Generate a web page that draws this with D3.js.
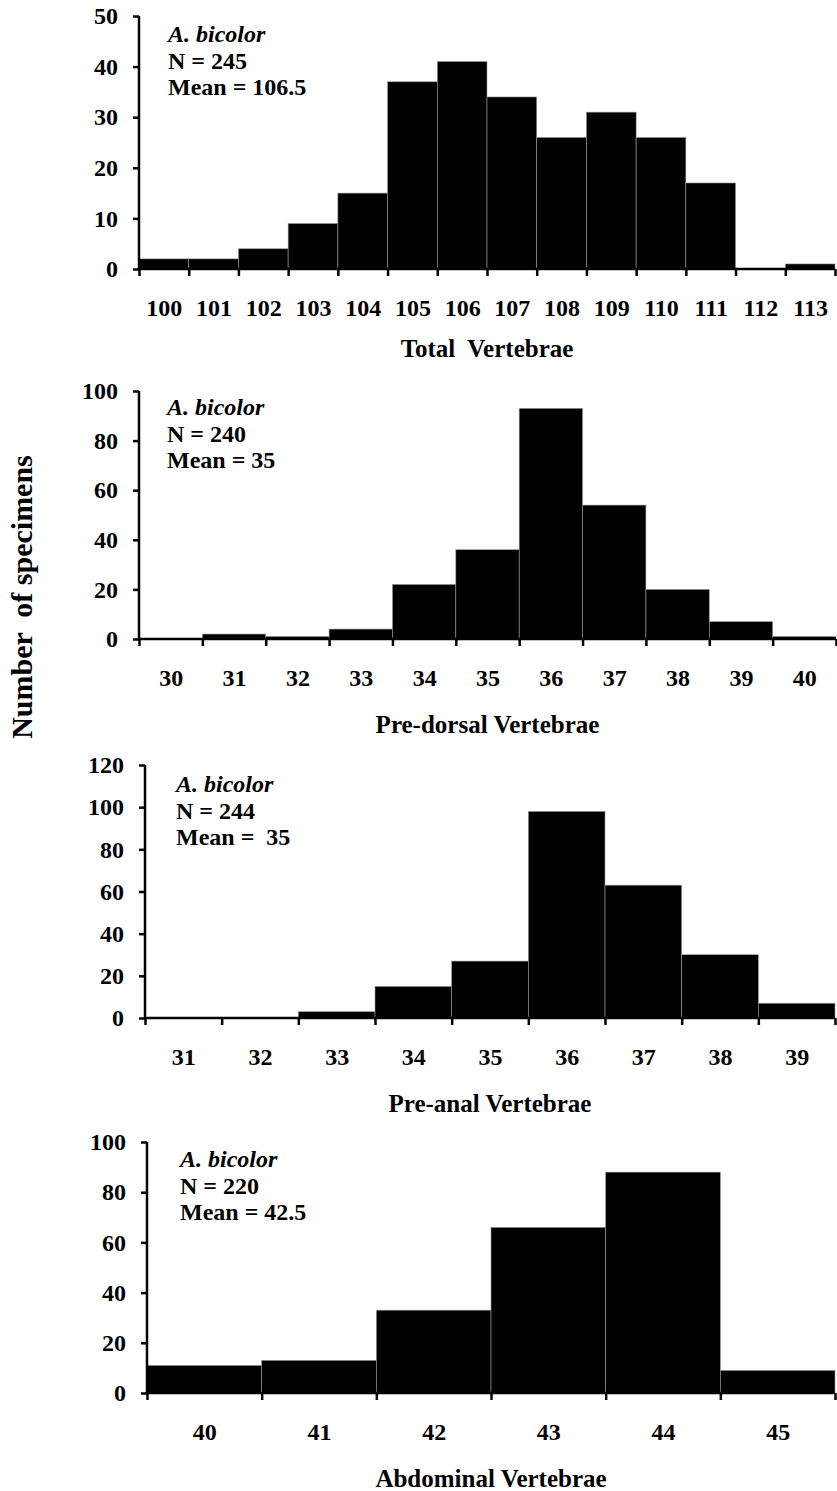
<!DOCTYPE html>
<html>
<head>
<meta charset="utf-8">
<script src="https://d3js.org/d3.v7.min.js"></script>
<style>
  body { margin: 0; background: #fff; }
  svg text { font-family: "Liberation Serif", "Times New Roman", serif; font-weight: bold; fill: #000; white-space: pre; }
  .axis path, .axis line { stroke: #000; stroke-width: 2.5px; }
  .axis text { font-size: 24px; }
</style>
</head>
<body>
<script>
// vertebrae counts (categories) and number of specimens per count
var totalCounts = [100, 101, 102, 103, 104, 105, 106, 107, 108, 109, 110, 111, 112, 113];
var totalValues = [2, 2, 4, 9, 15, 37, 41, 34, 26, 31, 26, 17, 0, 1];

var dorsalCounts = [30, 31, 32, 33, 34, 35, 36, 37, 38, 39, 40];
var dorsalValues = [0, 2, 1, 4, 22, 36, 93, 54, 20, 7, 1];

var analCounts = [31, 32, 33, 34, 35, 36, 37, 38, 39];
var analValues = [0, 0, 3, 15, 27, 98, 63, 30, 7];

var abdCounts = [40, 41, 42, 43, 44, 45];
var abdValues = [11, 13, 33, 66, 88, 9];

var titles = ["Total  Vertebrae", "Pre-dorsal Vertebrae", "Pre-anal Vertebrae", "Abdominal Vertebrae"];
var species = "A. bicolor";
var nLabels = ["N = 245", "N = 240", "N = 244", "N = 220"];
var meanLabels = ["Mean = 106.5", "Mean = 35", "Mean =  35", "Mean = 42.5"];
var yMax = [50, 100, 120, 100];
var yStep = [10, 20, 20, 20];

var panels = [
  { counts: totalCounts, values: totalValues, left: 139, right: 835, top: 16, bottom: 269, titleGap: 88, noteX: 29, noteY: 26 },
  { counts: dorsalCounts, values: dorsalValues, left: 139, right: 836, top: 391, bottom: 639, titleGap: 94, noteX: 28, noteY: 24 },
  { counts: analCounts, values: analValues, left: 145, right: 835, top: 765, bottom: 1018, titleGap: 94, noteX: 31, noteY: 27 },
  { counts: abdCounts, values: abdValues, left: 147, right: 835, top: 1142, bottom: 1393, titleGap: 94, noteX: 33, noteY: 25 }
];

var svg = d3.select("body").append("svg")
  .attr("width", 837)
  .attr("height", 1491);

panels.forEach(function(p, k) {
  var c = p.counts;
  var x = d3.scaleLinear()
    .domain([c[0] - 0.5, c[c.length - 1] + 0.5])
    .range([p.left, p.right]);
  var y = d3.scaleLinear()
    .domain([0, yMax[k]])
    .range([p.bottom, p.top]);

  var data = c.map(function(v, i) { return { count: v, n: p.values[i] }; });

  var g = svg.append("g");

  // histogram bars
  g.selectAll(".bar")
    .data(data)
    .enter().append("rect")
    .attr("class", "bar")
    .attr("x", d => x(d.count - 0.5))
    .attr("width", d => x(d.count + 0.5) - x(d.count - 0.5))
    .attr("y", d => y(d.n))
    .attr("height", d => y(0) - y(d.n))
    .attr("fill", "#000")
    .attr("stroke", "#999")
    .attr("stroke-width", 0.6);

  // y axis
  g.append("g")
    .attr("class", "axis")
    .attr("transform", "translate(" + p.left + ",0)")
    .call(d3.axisLeft(y).tickValues(d3.range(0, yMax[k] + 1, yStep[k])).tickSize(6).tickPadding(15))
    .call(s => s.select(".domain").attr("d", "M0," + p.bottom + "V" + p.top));

  // x axis: tick marks at bin edges
  var edges = c.map(v => v - 0.5).concat([c[c.length - 1] + 0.5]);
  g.append("g")
    .attr("class", "axis")
    .attr("transform", "translate(0," + p.bottom + ")")
    .call(d3.axisBottom(x).tickValues(edges).tickSize(7).tickFormat(""))
    .call(s => s.select(".domain").attr("d", "M" + p.left + ",0H" + p.right));

  // x labels at bin centres
  g.append("g")
    .attr("class", "axis")
    .attr("transform", "translate(0," + p.bottom + ")")
    .call(d3.axisBottom(x).tickValues(c).tickSize(0).tickPadding(30).tickFormat(d3.format("d")))
    .call(s => s.select(".domain").remove());

  // axis title
  g.append("text")
    .attr("x", (p.left + p.right) / 2)
    .attr("y", p.bottom + p.titleGap)
    .attr("text-anchor", "middle")
    .style("font-size", "25px")
    .text(titles[k]);

  // annotation
  var note = g.append("text")
    .attr("x", p.left + p.noteX)
    .attr("y", p.top + p.noteY)
    .style("font-size", "24px");
  note.append("tspan").attr("x", p.left + p.noteX).style("font-style", "italic").text(species);
  note.append("tspan").attr("x", p.left + p.noteX).attr("dy", 26.5).text(nLabels[k]);
  note.append("tspan").attr("x", p.left + p.noteX).attr("dy", 26.5).text(meanLabels[k]);
});

svg.append("text")
  .attr("transform", "translate(32,597) rotate(-90)")
  .attr("text-anchor", "middle")
  .style("font-size", "30px")
  .text("Number  of specimens");
</script>
</body>
</html>
